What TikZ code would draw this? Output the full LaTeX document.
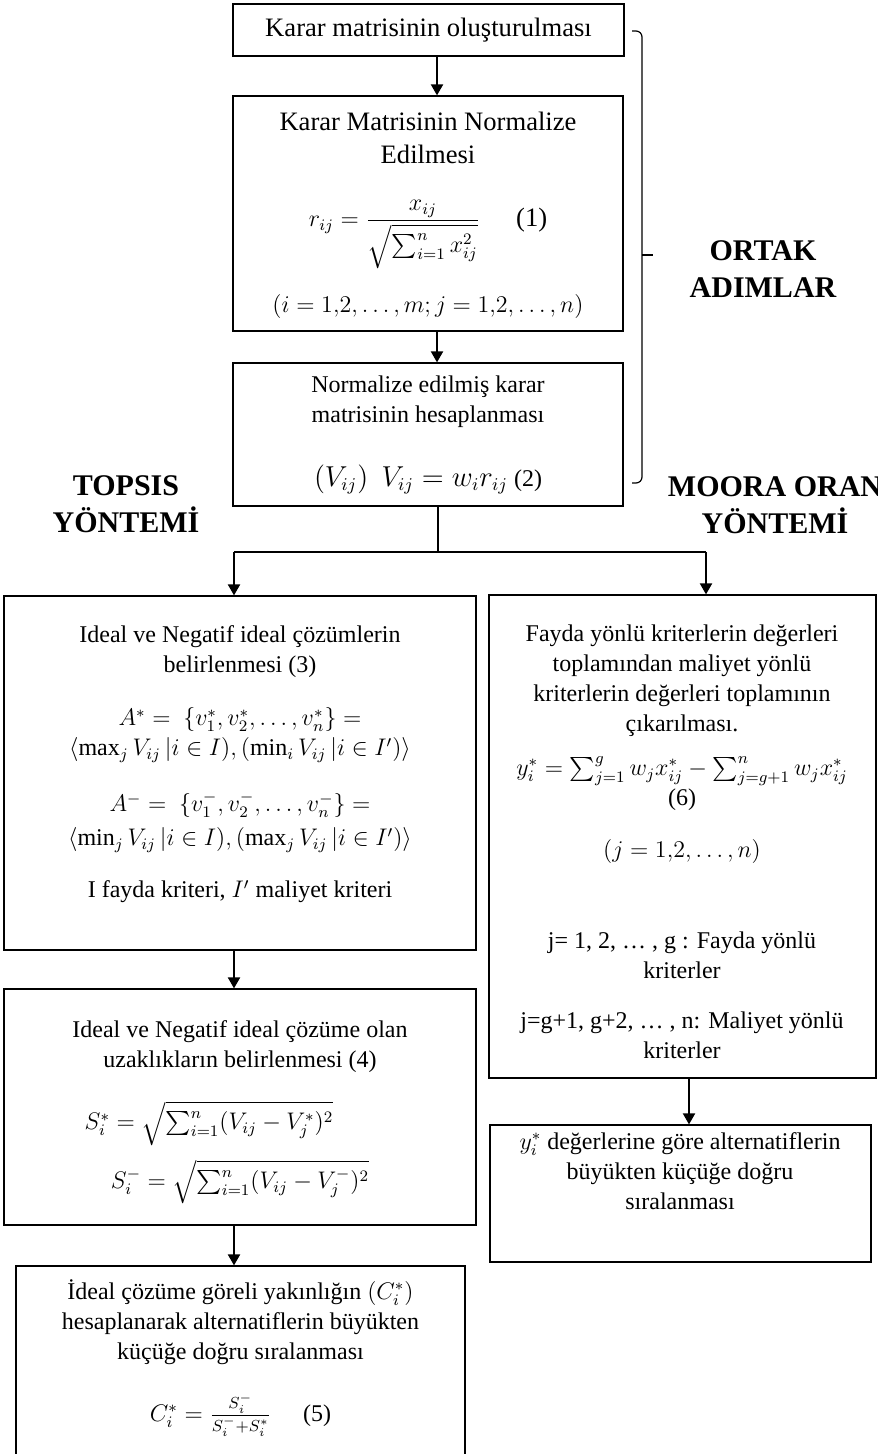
\documentclass[tikz,border=0pt]{standalone}
\usepackage{amsmath}
\usepackage{fontspec}
\setmainfont{Liberation Serif}
\usetikzlibrary{fit, arrows.meta}

\begin{document}
\begin{tikzpicture}
    [x=0.5pt, y=-0.5pt,
     boxframe/.style={draw, line width=0.6pt, inner sep=0pt},
     txt/.style={anchor=north, align=center, inner sep=0pt,
                 font={\fontsize{12}{15}\selectfont\lineskiplimit=-100pt}},
     bigtxt/.style={txt, font={\fontsize{13.3}{15}\selectfont\lineskiplimit=-100pt}},
     heading/.style={anchor=north, align=center, inner sep=0pt,
                     font={\fontsize{15}{18.5}\selectfont\bfseries\lineskiplimit=-100pt}},
     arr/.style={line width=1pt, -{Triangle[length=5.5pt, width=6pt]}},
     link/.style={line width=0.6pt}]

    \useasboundingbox (0,0) rectangle (877,1454);
    \clip (0,0) rectangle (877,1454);

    % ortak adimlar
    \node[boxframe, fit={(233,4) (624,56)}] (kararbox) {};
    \node[boxframe, fit={(233,96) (623,331)}] (normbox) {};
    \node[boxframe, fit={(233,363) (623,506)}] (agirbox) {};

    \node[bigtxt, anchor=center] (kararlbl) at (428.5,30) {Karar matrisinin oluşturulması};
    \node[bigtxt] (normlbl) at (428,112)
        {Karar Matrisinin Normalize\\[1.5pt]
         Edilmesi\\[16.5pt]
         {\fontsize{12}{15}\selectfont$r_{ij} = \dfrac{x_{ij}}{\sqrt{\sum_{i=1}^{n} x_{ij}^{2}}}$\hspace{18pt}}(1)\\[28pt]
         {\fontsize{12}{15}\selectfont$(i = 1{,}2, \ldots, m; j = 1{,}2, \ldots, n)$}};
    \node[txt] (agirlbl) at (428,375)
        {Normalize edilmiş karar\\
         matrisinin hesaplanması\\[17pt]
         {\fontsize{13.3}{15}\selectfont$(V_{ij})\ \ V_{ij} = w_i r_{ij}$} (2)};

    % topsis
    \node[boxframe, fit={(4,596) (476,950)}] (idealbox) {};
    \node[boxframe, fit={(4,989) (476,1225)}] (uzakbox) {};
    \node[boxframe, fit={(16,1266) (465,1490)}] (yakinbox) {};

    \node[txt] (ideallbl) at (240,625.5)
        {Ideal ve Negatif ideal çözümlerin\\
         belirlenmesi (3)\\[11.5pt]
         $A^{*} =\ \{v_1^{*}, v_2^{*}, \ldots, v_n^{*}\} =$\\
         $\langle\max_j V_{ij}\,|i \in I), (\min_i V_{ij}\,|i \in I')\rangle$\\[13pt]
         $A^{-} =\ \{v_1^{-}, v_2^{-}, \ldots, v_n^{-}\} =$\\[2pt]
         $\langle\min_j V_{ij}\,|i \in I), (\max_j V_{ij}\,|i \in I')\rangle$\\[11pt]
         I fayda kriteri, $I'$ maliyet kriteri};
    \node[txt] (uzaklbl) at (240,1020.5)
        {Ideal ve Negatif ideal çözüme olan\\
         uzaklıkların belirlenmesi (4)\\[16pt]
         $S_i^{*} = \sqrt{\sum_{i=1}^{n}(V_{ij} - V_j^{*})^{2}}$\hspace*{31pt}\mbox{}\\[14.5pt]
         $S_i^{-} = \sqrt{\sum_{i=1}^{n}(V_{ij} - V_j^{-})^{2}}$};
    \node[txt] (yakinlbl) at (240.5,1279)
        {İdeal çözüme göreli yakınlığın $(C_i^{*})$\\
         hesaplanarak alternatiflerin büyükten\\
         küçüğe doğru sıralanması\\[16pt]
         $C_i^{*} = \frac{S_i^{-}}{S_i^{-} + S_i^{*}}$\hspace{16pt}(5)};

    % moora oran
    \node[boxframe, fit={(489,595) (876,1078)}] (faydabox) {};
    \node[boxframe, fit={(490,1125) (871,1262)}] (siralabox) {};

    \node[txt] (faydalbl) at (682,624.5)
        {Fayda yönlü kriterlerin değerleri\\
         toplamından maliyet yönlü\\
         kriterlerin değerleri toplamının\\
         çıkarılması.\\[7pt]
         $y_i^{*} = \sum_{j=1}^{g} w_j x_{ij}^{*} - \sum_{j=g+1}^{n} w_j x_{ij}^{*}$\\
         (6)\\[11pt]
         $(j = 1{,}2, \ldots, n)$\\[30.5pt]
         j= 1, 2, … , g : Fayda yönlü\\
         kriterler\\[10pt]
         j=g+1, g+2, … , n: Maliyet yönlü\\
         kriterler};
    \node[txt] (siralalbl) at (680,1132)
        {$y_i^{*}$ değerlerine göre alternatiflerin\\
         büyükten küçüğe doğru\\
         sıralanması};

    % basliklar
    \node[heading] (ortak) at (763,240) {ORTAK\\ADIMLAR};
    \node[heading] (topsis) at (126,475) {TOPSIS\\YÖNTEMİ};
    \node[heading] (moora) at (775,476) {MOORA ORAN\\YÖNTEMİ};

    % baglantilar
    \coordinate (spine) at (437,0);
    \coordinate (split) at (438,552);
    \coordinate (leftdrop) at (234,0);
    \coordinate (rightdrop) at (706,0);
    \coordinate (moorastem) at (689,0);

    \draw[arr] (kararbox.south -| spine) -- (normbox.north -| spine);
    \draw[arr] (normbox.south -| spine) -- (agirbox.north -| spine);
    \draw[link] (agirbox.south -| split) -- (split);
    \draw[link] (leftdrop |- split) -- (rightdrop |- split);
    \draw[arr] (leftdrop |- split) -- (idealbox.north -| leftdrop);
    \draw[arr] (rightdrop |- split) -- (faydabox.north -| rightdrop);
    \draw[arr] (idealbox.south -| leftdrop) -- (uzakbox.north -| leftdrop);
    \draw[arr] (uzakbox.south -| leftdrop) -- (yakinbox.north -| leftdrop);
    \draw[arr] (faydabox.south -| moorastem) -- (siralabox.north -| moorastem);

    % parantez
    \draw[link, rounded corners=3pt] (632,31) -- (642,31) -- (642,483) -- (632,483);
    \draw[link] (642,255) -- (653,255);
\end{tikzpicture}
\end{document}
